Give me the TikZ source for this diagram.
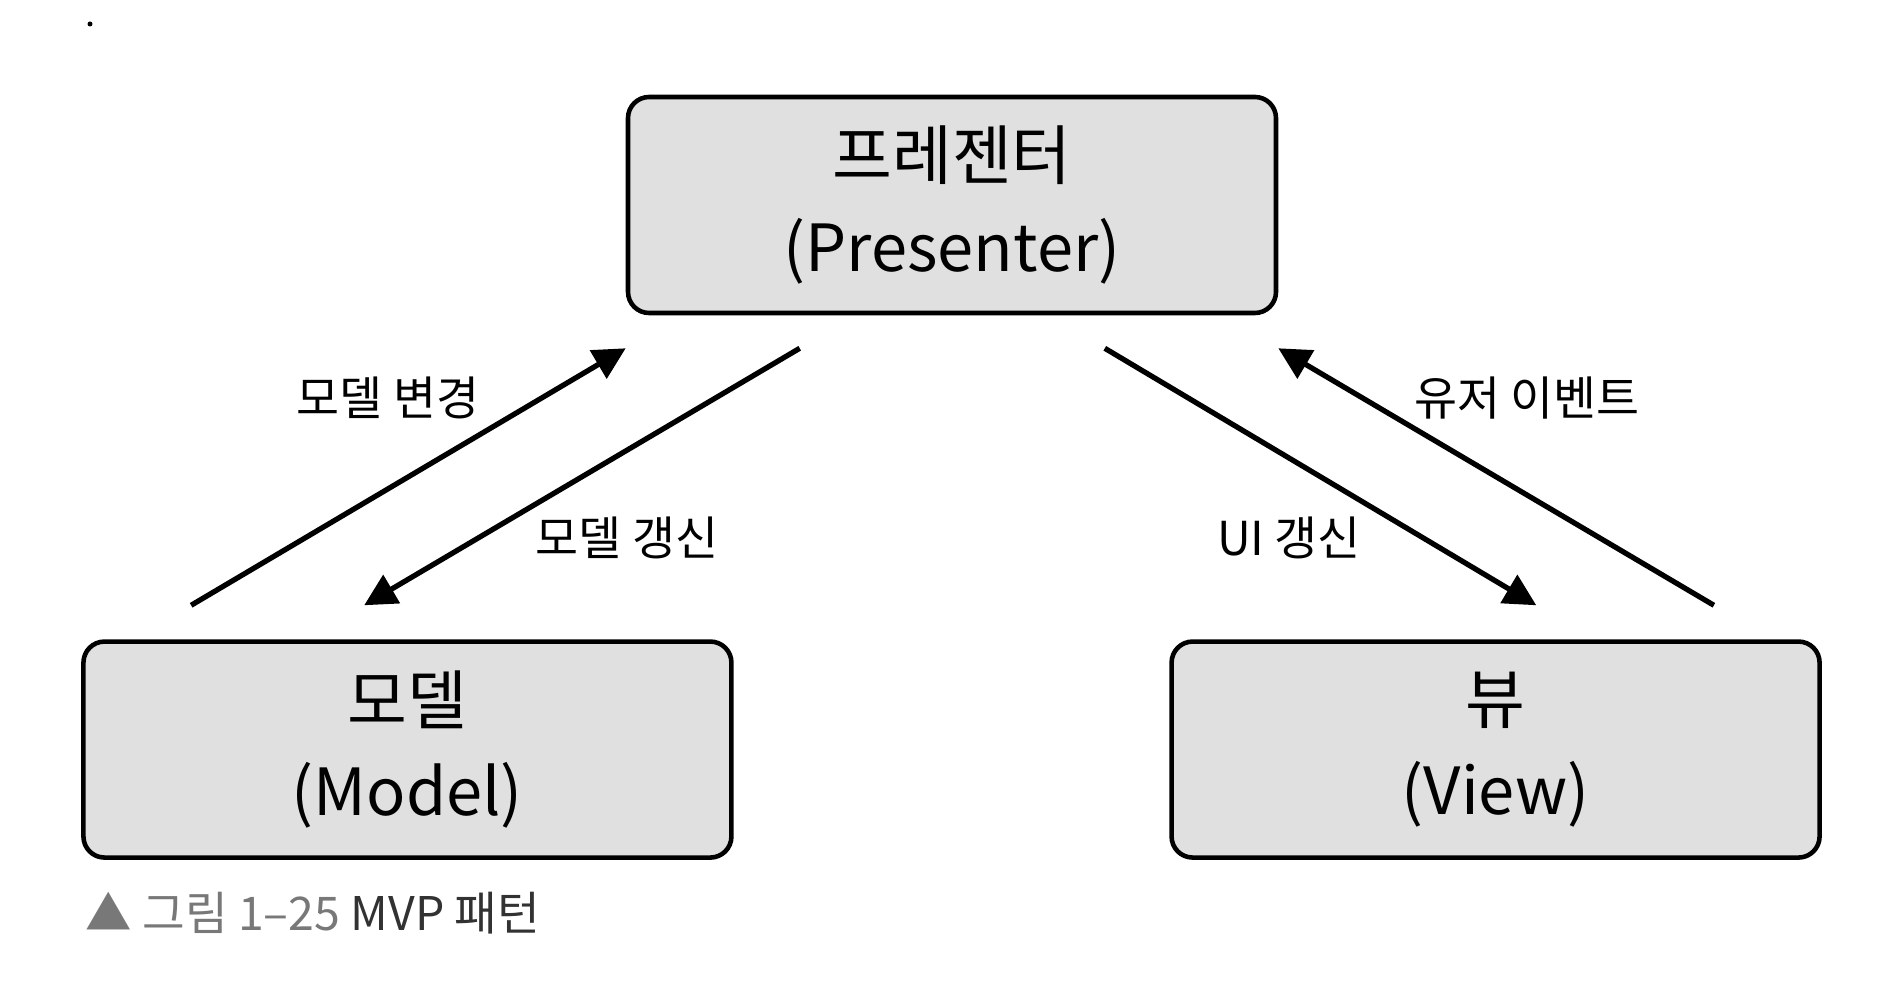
\documentclass[tikz,border=0pt]{standalone}
\usepackage{fontspec}
\setmainfont{Noto Sans CJK KR}
\usetikzlibrary{positioning,arrows.meta}

\definecolor{boxgray}{RGB}{224,224,224}
\definecolor{capgray}{RGB}{120,120,120}
\definecolor{capdark}{RGB}{50,50,50}

\begin{document}
\begin{tikzpicture}[
    box/.style={
        rectangle, rounded corners=6pt,
        draw=black, line width=1.3pt, fill=boxgray,
        minimum width=6.48cm, minimum height=2.16cm,
        align=center, font=\fontsize{18.5}{26}\selectfont, inner sep=4pt
    },
    flow/.style={
        line width=1.5pt, -{Triangle[length=0.32cm, width=0.32cm]}
    },
    tag/.style={
        font=\fontsize{13.3}{16}\selectfont, inner sep=1pt
    }
]

%% Page frame
\useasboundingbox (0,0) rectangle (19.03,-10);
\fill (0.90,-0.24) circle (0.025);

%% Boxes
\node[box] (P) at (9.52,-2.05) {프레젠터\\(Presenter)};
\node[box, below left=3.24cm and -1.08cm of P] (M) {모델\\(Model)};
\node[box, below right=3.24cm and -1.09cm of P] (V) {뷰\\(View)};

%% Arrow ends
\coordinate (mc1) at ([shift={(1.10,0.34)}]M.north west);
\coordinate (mc2) at ([shift={(0,-0.33)}]P.south west);
\coordinate (mu1) at ([shift={(1.74,-0.33)}]P.south west);
\coordinate (mu2) at ([shift={(2.83,0.34)}]M.north west);
\coordinate (vu1) at ([shift={(-1.735,-0.33)}]P.south east);
\coordinate (vu2) at ([shift={(3.67,0.34)}]V.north west);
\coordinate (ue1) at ([shift={(-1.08,0.34)}]V.north east);
\coordinate (ue2) at ([shift={(0,-0.33)}]P.south east);

%% Arrows
\draw[flow] (mc1) -- (mc2);
\draw[flow] (mu1) -- (mu2);
\draw[flow] (vu1) -- (vu2);
\draw[flow] (ue1) -- (ue2);

%% Arrow labels
\node[tag] (Lmc) at (3.88,-3.98) {모델 변경};
\node[tag] (Lmu) at (6.27,-5.38) {모델 갱신};
\node[tag] (Lvu) at (12.89,-5.38) {UI 갱신};
\node[tag] (Lue) at (15.27,-3.98) {유저 이벤트};

%% Caption
\node[anchor=west, inner sep=0pt, font=\fontsize{13.2}{15}\selectfont]
    (cap) at (0.85,-9.13) {\textcolor{capgray}{▲ 그림 1–25} \textcolor{capdark}{MVP 패턴}};

\end{tikzpicture}
\end{document}
